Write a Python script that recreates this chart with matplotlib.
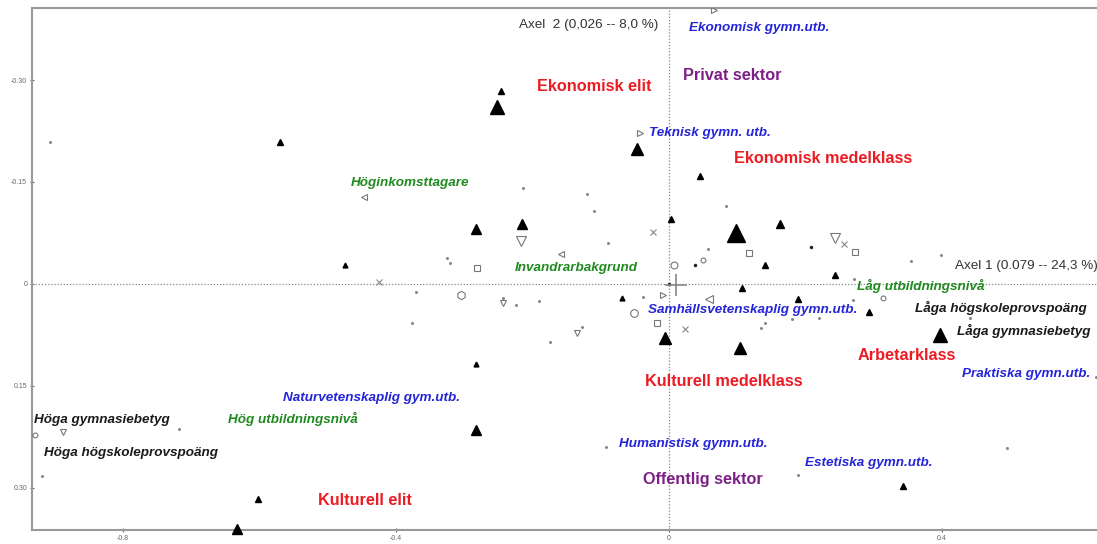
import matplotlib
matplotlib.use("Agg")
import matplotlib.pyplot as plt

plt.rcParams['font.family'] = ['Liberation Sans', 'DejaVu Sans']

### Data: correspondence analysis map, axis 1 (x) and axis 2 (y, drawn inverted)
# filled black triangles: x, y, size
tri_x = [-0.252, -0.246, -0.047, -0.570, 0.045, -0.283, -0.215, 0.098, 0.163, 0.003,
         -0.475, 0.141, 0.243, 0.107, 0.189, 0.293, -0.069, 0.397, -0.006, 0.104,
         -0.283, -0.283, -0.602, -0.633, 0.343]
tri_y = [-0.260, -0.284, -0.199, -0.209, -0.159, -0.081, -0.088, -0.075, -0.088, -0.096,
         -0.028, -0.028, -0.013, 0.006, 0.022, 0.041, 0.021, 0.075, 0.079, 0.094,
         0.118, 0.215, 0.316, 0.361, 0.297]
tri_s = [10, 5, 8.5, 4, 5, 7, 6.5, 13, 5.5, 4,
         3.5, 5, 5, 4.5, 4, 5, 3.5, 10, 8.5, 8.5,
         3.5, 7, 4, 7, 4.5]

# hollow grey markers: marker, x, y, size
open_m = ['>', '>', '>', '<', '<', '<', 'v', 'v', 'v', 's', 's', 's', 's',
          'o', 'o', 'h', 'o', 'o', 'o', 'v', 'v']
open_x = [-0.042, 0.066, -0.009, -0.447, -0.158, 0.059, -0.217, 0.243, -0.888,
          -0.281, 0.117, 0.273, -0.018, 0.007, -0.051, -0.305, 0.050, 0.314, -0.929,
          -0.243, -0.135]
open_y = [-0.222, -0.403, 0.016, -0.128, -0.044, 0.022, -0.063, -0.068, 0.218,
          -0.024, -0.046, -0.047, 0.057, -0.028, 0.043, 0.016, -0.035, 0.021, 0.222,
          0.028, 0.072]
open_s = [4, 4, 4.5, 4, 5, 6, 7, 6.5, 5, 5, 5, 5, 5, 5, 5.5, 6, 3.5, 3.5, 3.5, 4, 4]

cross_x = [-0.023, 0.256, 0.023, -0.425]
cross_y = [-0.076, -0.059, 0.066, -0.003]

# small grey dots
dot_x = [-0.907, -0.214, -0.120, -0.110, -0.089, -0.325, -0.321, -0.371, -0.243, -0.224,
         -0.190, -0.377, -0.174, -0.127, -0.092, -0.718, -0.919, -0.038, 0.084, 0.057,
         0.355, 0.399, 0.271, 0.270, 0.141, 0.135, 0.180, 0.220, 0.441, 0.495,
         0.189, 0.626]
dot_y = [-0.209, -0.141, -0.132, -0.107, -0.060, -0.038, -0.031, 0.012, 0.021, 0.031,
         0.025, 0.057, 0.085, 0.063, 0.240, 0.213, 0.282, 0.019, -0.115, -0.051,
         -0.034, -0.043, -0.007, 0.024, 0.057, 0.065, 0.051, 0.050, 0.050, 0.241,
         0.281, 0.137]
# small black dots
bdot_x = [0.038, 0.0, 0.208]
bdot_y = [-0.028, 0.0, -0.054]

# labels: text, x, y, group
lab_text = ["Ekonomisk gymn.utb.", "Privat sektor", "Ekonomisk elit", "Teknisk gymn. utb.",
            "Ekonomisk medelklass", "Höginkomsttagare", "Invandrarbakgrund",
            "Låg utbildningsnivå", "Samhällsvetenskaplig gymn.utb.", "Låga högskoleprovspoäng",
            "Låga gymnasiebetyg", "Arbetarklass", "Praktiska gymn.utb.", "Kulturell medelklass",
            "Naturvetenskaplig gym.utb.", "Hög utbildningsnivå", "Höga gymnasiebetyg",
            "Höga högskoleprovspoäng", "Humanistisk gymn.utb.", "Estetiska gymn.utb.",
            "Offentlig sektor", "Kulturell elit"]
lab_x = [0.132, 0.092, -0.110, 0.060, 0.226, -0.379, -0.136, 0.369, 0.123, 0.486,
         0.519, 0.349, 0.523, 0.081, -0.435, -0.551, -0.831, -0.788, 0.035, 0.292,
         0.050, -0.445]
lab_y = [-0.376, -0.306, -0.291, -0.222, -0.184, -0.149, -0.024, 0.003, 0.038, 0.035,
         0.069, 0.106, 0.132, 0.144, 0.168, 0.199, 0.200, 0.249, 0.235, 0.263,
         0.287, 0.318]
lab_grp = ['edu', 'sector', 'class', 'edu', 'class', 'other', 'other', 'other', 'edu', 'grade',
           'grade', 'class', 'edu', 'class', 'edu', 'other', 'grade', 'grade', 'edu', 'edu',
           'sector', 'class']

styles = {
    'class':  dict(color='#ec1c24', fontsize=11.7, fontstyle='normal'),
    'sector': dict(color='#7d1f85', fontsize=11.7, fontstyle='normal'),
    'edu':    dict(color='#2424d8', fontsize=9.7, fontstyle='italic'),
    'other':  dict(color='#1f8a1f', fontsize=9.7, fontstyle='italic'),
    'grade':  dict(color='#1a1a1a', fontsize=9.7, fontstyle='italic'),
}

### Plot
fig = plt.figure(figsize=(10.97, 5.44), dpi=100)
ax = fig.add_axes([32 / 1097, 14 / 544, 1 - 32 / 1097, 522 / 544])

ax.set_xlim(-0.933, 0.627)
ax.set_ylim(0.362, -0.406)

ax.axhline(0, color='#888888', lw=0.9, ls=(0, (1, 1.5)), zorder=1)
ax.axvline(0, color='#888888', lw=0.9, ls=(0, (1, 1.5)), zorder=1)

for x, y, s in zip(tri_x, tri_y, tri_s):
    ax.plot(x, y, marker='^', ms=s, color='black', ls='none', zorder=4, clip_on=False)

for m, x, y, s in zip(open_m, open_x, open_y, open_s):
    ax.plot(x, y, marker=m, ms=s, mfc='none', mec='#777777', mew=0.8, ls='none', zorder=3)

ax.plot(cross_x, cross_y, 'x', ms=4.5, color='#888888', mew=0.8, zorder=3)
ax.plot(dot_x, dot_y, 'o', ms=2.2, color='#888888', mew=0, zorder=3)
ax.plot(bdot_x, bdot_y, 'o', ms=2.5, color='#222222', mew=0, zorder=3)
ax.plot([0.010], [0.001], '+', ms=16, color='#888888', mew=1.2, zorder=3)

for t, x, y, g in zip(lab_text, lab_x, lab_y, lab_grp):
    ax.text(x, y, t, ha='center', va='center', fontweight='bold', zorder=5, **styles[g])

ax.text(-0.016, -0.381, "Axel  2 (0,026 -- 8,0 %)", ha='right', va='center', fontsize=9.7, color='#333333')
ax.text(0.523, -0.026, "Axel 1 (0.079 -- 24,3 %)", ha='center', va='center', fontsize=9.7, color='#333333')

ax.set_xticks([-0.8, -0.4, 0, 0.4])
ax.set_xticklabels(['-0.8', '-0.4', '0', '0.4'])
ax.set_yticks([-0.30, -0.15, 0, 0.15, 0.30])
ax.set_yticklabels(['-0.30', '-0.15', '0', '0.15', '0.30'])
ax.tick_params(labelsize=5, colors='#666666', length=3, direction='inout', pad=2)

for side in ['left', 'bottom', 'top']:
    ax.spines[side].set_color('#999999')
    ax.spines[side].set_linewidth(1.5)
ax.spines['right'].set_visible(False)

fig.savefig('out.png', dpi=100)
